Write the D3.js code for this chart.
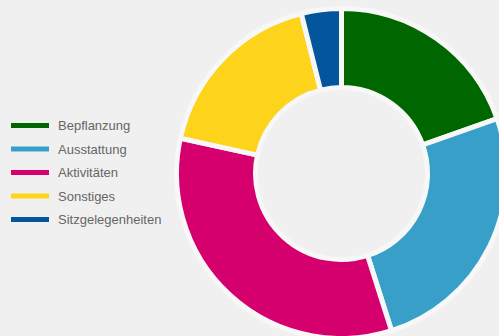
<!DOCTYPE html>
<meta charset="utf-8">
<style>
body { margin: 0; background: #f0f0f0; }
svg { display: block; }
text { font-family: "Liberation Sans", Arial, sans-serif; }
</style>
<body>
<script src="https://d3js.org/d3.v7.min.js"></script>
<script>

const width = 499
const height = 336

// categories and counts
const categories = ['Bepflanzung', 'Ausstattung', 'Aktivitäten', 'Sonstiges', 'Sitzgelegenheiten']
const values = [10, 13, 17, 9, 2]
const colors = ['#006600', '#38a0c8', '#d5006e', '#fdd31b', '#04569c']

const svg = d3.select('body')
	.append('svg')
	.attr('width', width)
	.attr('height', height)

svg.append('rect')
	.attr('width', width)
	.attr('height', height)
	.attr('fill', '#f0f0f0')

const color = d3.scaleOrdinal()
	.domain(categories)
	.range(colors)

// pie layout keeps the input order, clockwise from top
const pie = d3.pie()
	.sort(null)
	.value((d, i) => values[i])

const arc = d3.arc()
	.innerRadius(86)
	.outerRadius(165)

const g = svg.append('g')
	.attr('transform', 'translate(341.5,173.5)')

g.selectAll('path')
	.data(pie(categories))
	.enter()
	.append('path')
	.attr('d', arc)
	.attr('fill', d => color(d.data))
	.attr('stroke', '#f7f7f7')
	.attr('stroke-width', 5)

// legend
const y = d3.scalePoint()
	.domain(categories)
	.range([125.5, 219.5])

const legend = svg.append('g')

const item = legend.selectAll('g')
	.data(categories)
	.enter()
	.append('g')
	.attr('transform', d => `translate(0,${y(d)})`)

item.append('rect')
	.attr('x', 11)
	.attr('y', -2.5)
	.attr('width', 38)
	.attr('height', 5)
	.attr('fill', d => color(d))

item.append('text')
	.attr('x', 58)
	.attr('dy', '0.35em')
	.attr('font-size', 13)
	.attr('fill', '#666')
	.text(d => d)

</script>
</body>
</html>
